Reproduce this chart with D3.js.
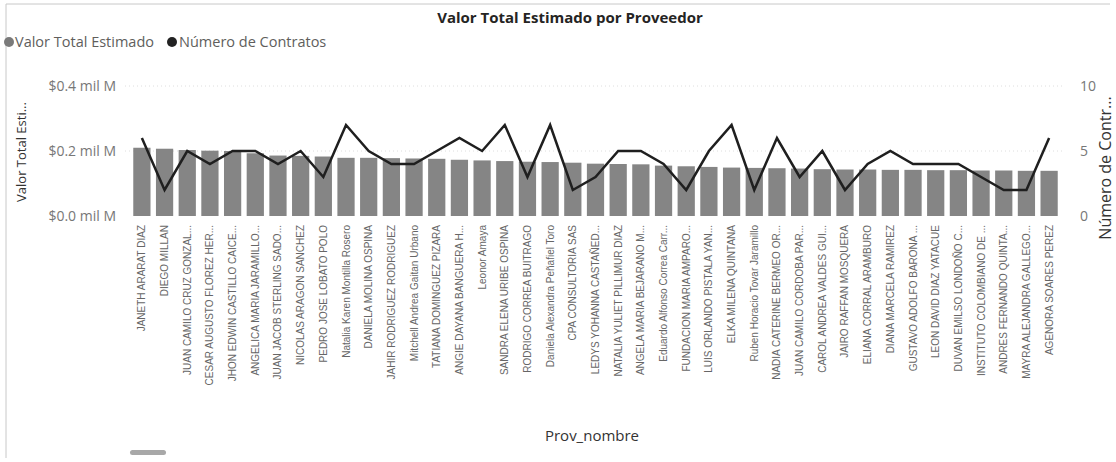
<!DOCTYPE html>
<html>
<head>
<meta charset="utf-8">
<script src="https://cdn.jsdelivr.net/npm/d3@7"></script>
<style>
  body { margin: 0; background: #fff; }
  svg { font-family: "Open Sans", "Noto Sans", sans-serif; }
</style>
</head>
<body>
<script>
var proveedores = [
  "JANETH ARARAT DIAZ", "DIEGO MILLAN", "JUAN CAMILO CRUZ GONZAL...", "CESAR AUGUSTO FLOREZ HER...",
  "JHON EDWIN CASTILLO CAICE...", "ANGELICA MARIA JARAMILLO...", "JUAN JACOB STERLING SADO...",
  "NICOLAS ARAGON SANCHEZ", "PEDRO JOSE LOBATO POLO", "Natalia Karen Montilla Rosero",
  "DANIELA MOLINA OSPINA", "JAHIR RODRIGUEZ RODRIGUEZ", "Mitchell Andrea Gaitan Urbano",
  "TATIANA DOMINGUEZ PIZARA", "ANGIE DAYANA BANGUERA H...", "Leonor Amaya",
  "SANDRA ELENA URIBE OSPINA", "RODRIGO CORREA BUITRAGO", "Daniela Alexandra Peñafiel Toro",
  "CPA CONSULTORIA SAS", "LEDYS YOHANNA CASTAÑED...", "NATALIA YULIET PILLIMUR DIAZ",
  "ANGELA MARIA BEJARANO M...", "Eduardo Alfonso Correa Carr...", "FUNDACION MARIA AMPARO...",
  "LUIS ORLANDO PISTALA YAN...", "ELKA MILENA QUINTANA", "Ruben Horacio Tovar Jaramillo",
  "NADIA CATERINE BERMEO OR...", "JUAN CAMILO CORDOBA PAR...", "CAROL ANDREA VALDES GUI...",
  "JAIRO RAFFAN MOSQUERA", "ELIANA CORRAL ARAMBURO", "DIANA MARCELA RAMIREZ",
  "GUSTAVO ADOLFO BARONA ...", "LEON DAVID DIAZ YATACUE", "DUVAN EMILSO LONDOÑO C...",
  "INSTITUTO COLOMBIANO DE ...", "ANDRES FERNANDO QUINTA...", "MAYRA ALEJANDRA GALLEGO...",
  "AGENORA SOARES PEREZ"
];

// valor total estimado, miles de millones
var valorTotal = [
  0.210, 0.207, 0.203, 0.201, 0.200, 0.193, 0.186, 0.185, 0.183, 0.179,
  0.179, 0.178, 0.177, 0.176, 0.173, 0.171, 0.169, 0.167, 0.166, 0.164,
  0.161, 0.160, 0.159, 0.155, 0.153, 0.151, 0.149, 0.148, 0.147, 0.146,
  0.144, 0.143, 0.143, 0.142, 0.142, 0.141, 0.141, 0.140, 0.140, 0.139,
  0.139
];

var numContratos = [
  6, 2, 5, 4, 5, 5, 4, 5, 3, 7,
  5, 4, 4, 5, 6, 5, 7, 3, 7, 2,
  3, 5, 5, 4, 2, 5, 7, 2, 6, 3,
  5, 2, 4, 5, 4, 4, 4, 3, 2, 2,
  6
];

var leftTicks = [0, 0.2, 0.4];
var rightTicks = [0, 5, 10];

var W = 1116, H = 462;
var svg = d3.select("body").append("svg")
    .attr("width", W)
    .attr("height", H);

// marco del visual
svg.append("path")
    .attr("d", "M6,4 H1110 M6,4 V458")
    .attr("stroke", "#c8c8c8")
    .attr("stroke-width", 1)
    .attr("fill", "none");

var x = d3.scaleBand()
    .domain(proveedores)
    .range([131, 1060])
    .paddingInner(0.24)
    .paddingOuter(0.1);

var yL = d3.scaleLinear().domain([0, 0.4]).range([216, 86]);
var yR = d3.scaleLinear().domain([0, 10]).range([216, 86]);

// titulo
svg.append("text")
    .attr("x", 570).attr("y", 23)
    .attr("text-anchor", "middle")
    .style("font-size", "15px")
    .style("font-weight", "bold")
    .attr("fill", "#252423")
    .text("Valor Total Estimado por Proveedor");

// leyenda
var legend = svg.append("g").attr("transform", "translate(0,47)");
legend.append("circle").attr("cx", 9).attr("cy", -5).attr("r", 5).attr("fill", "#7a7a7a");
legend.append("text").attr("x", 15).attr("y", 0)
    .style("font-size", "14.5px").attr("fill", "#605e5c").text("Valor Total Estimado");
legend.append("circle").attr("cx", 172).attr("cy", -5).attr("r", 5).attr("fill", "#222");
legend.append("text").attr("x", 179).attr("y", 0)
    .style("font-size", "14.5px").attr("fill", "#605e5c").text("Número de Contratos");

// grid
svg.append("g")
    .selectAll("line")
    .data(leftTicks.filter(function(d) { return d > 0; }))
    .enter().append("line")
    .attr("x1", 125).attr("x2", 1065)
    .attr("y1", function(d) { return yL(d); })
    .attr("y2", function(d) { return yL(d); })
    .attr("stroke", "#dedede")
    .attr("stroke-dasharray", "1,3");

// eje izquierdo
var axL = svg.append("g")
    .attr("transform", "translate(116,0)")
    .call(d3.axisLeft(yL).tickValues(leftTicks).tickSize(0).tickPadding(0)
        .tickFormat(function(d) { return "$" + d.toFixed(1) + " mil M"; }));
axL.select(".domain").remove();
axL.selectAll("text").style("font-size", "14px").attr("fill", "#777")
    .style("font-family", "'Open Sans', sans-serif");

// eje derecho
var axR = svg.append("g")
    .attr("transform", "translate(1080,0)")
    .call(d3.axisRight(yR).tickValues(rightTicks).tickSize(0).tickPadding(0));
axR.select(".domain").remove();
axR.selectAll("text").style("font-size", "14px").attr("fill", "#777")
    .style("font-family", "'Open Sans', sans-serif");

// titulos de ejes
svg.append("text")
    .attr("transform", "translate(26,152) rotate(-90)")
    .attr("text-anchor", "middle")
    .style("font-size", "13px").attr("fill", "#333")
    .text("Valor Total Esti...");
svg.append("text")
    .attr("transform", "translate(1111,168) rotate(-90)")
    .attr("text-anchor", "middle")
    .style("font-size", "16px").attr("fill", "#333")
    .text("Número de Contr...");
svg.append("text")
    .attr("x", 592).attr("y", 441)
    .attr("text-anchor", "middle")
    .style("font-size", "15px").attr("fill", "#333")
    .text("Prov_nombre");

// barras
svg.append("g")
    .selectAll("rect")
    .data(valorTotal)
    .enter().append("rect")
    .attr("x", function(d, i) { return x(proveedores[i]); })
    .attr("y", function(d) { return yL(d); })
    .attr("width", x.bandwidth())
    .attr("height", function(d) { return yL(0) - yL(d); })
    .attr("fill", "#858585");

// eje x
var axX = svg.append("g")
    .attr("transform", "translate(0,219)")
    .call(d3.axisBottom(x).tickSize(0).tickPadding(0));
axX.select(".domain").remove();
axX.selectAll("text")
    .attr("transform", "rotate(-90)")
    .attr("text-anchor", "end")
    .attr("x", -6).attr("y", 0)
    .attr("dy", "0.35em")
    .style("font-size", "10px")
    .style("font-family", "'Liberation Sans', Arial, sans-serif")
    .attr("fill", "#666");

// linea de contratos
var line = d3.line()
    .x(function(d, i) { return x(proveedores[i]) + x.bandwidth() / 2; })
    .y(function(d) { return yR(d); });

svg.append("path")
    .datum(numContratos)
    .attr("d", line)
    .attr("fill", "none")
    .attr("stroke", "#1f1f1f")
    .attr("stroke-width", 2.5)
    .attr("stroke-linejoin", "miter");

// barra de desplazamiento
svg.append("rect")
    .attr("x", 130).attr("y", 450).attr("width", 36).attr("height", 5)
    .attr("rx", 2.5).attr("fill", "#a8a8a8");
</script>
</body>
</html>
